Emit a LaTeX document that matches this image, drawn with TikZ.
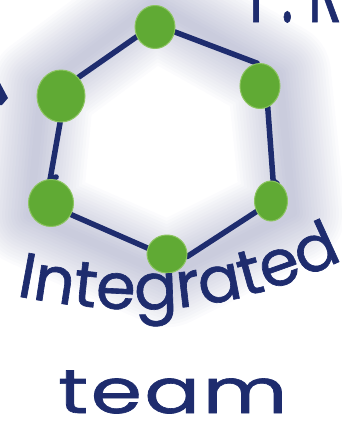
\documentclass[tikz,border=0pt]{standalone}
\usepackage{fontspec}
\setmainfont{Poppins}
\newfontfamily\handfont{Poppins}[FakeBold=1.0]
\usetikzlibrary{shapes.geometric,decorations.text}
\definecolor{navy}{RGB}{30,44,110}
\definecolor{leaf}{RGB}{96,170,52}
\definecolor{leaflight}{RGB}{140,196,96}
\definecolor{glowc}{RGB}{115,120,165}
\pgfdeclarelayer{bg}
\pgfsetlayers{bg,main}
\begin{document}
\begin{tikzpicture}[x=1pt,y=-1pt,
  dot/.style={ellipse, fill=leaf, draw=leaflight, line width=1pt, inner sep=0pt},
  edge/.style={draw=navy, line width=5.5pt, line cap=round, line join=round},
  hand/.style={text=navy, inner sep=0pt}]
\useasboundingbox (0,0) rectangle (342,421);
\clip (0,0) rectangle (342,421);
% nodes
\node[dot, minimum width=40pt, minimum height=43pt] (n1) at (155,27) {};
\node[dot, minimum width=40pt, minimum height=45pt] (n2) at (260,86) {};
\node[dot, minimum width=33pt, minimum height=40pt] (n3) at (271,201) {};
\node[dot, minimum width=40pt, minimum height=38pt] (n4) at (167,254) {};
\node[dot, minimum width=45pt, minimum height=47pt] (n5) at (51,203) {};
\node[dot, minimum width=48pt, minimum height=52pt] (n6) at (61,96) {};
\begin{pgfonlayer}{bg}
  \foreach \w in {104,98,...,8}
    \draw[glowc, opacity=0.026, line width=\w pt, line join=round]
      (154,4) -- (279,74) -- (293,213) -- (168,275) -- (30,215) -- (42,87) -- cycle;
  \draw[edge] (n1.-14) -- (n2.97);
  \draw[edge] (n2.-70) -- (n3.84) -- ++(4,3);
  \draw[edge] (n3.216) -- (n4.-7);
  \draw[edge] (n4.163) -- (n5.-30);
  \draw[edge] (n5.92) -- ++(6,-2);
  \draw[edge] (n5.92) -- (n6.268);
  \draw[edge] (n6.47) -- (n1.208);
\end{pgfonlayer}
% arrow tip at left edge
\fill[navy] (0,83) -- (8,98) -- (2,105) -- (0,105) -- cycle;
% texts
\node[hand, anchor=base west, xscale=0.62, font=\handfont\fontsize{90}{92}\selectfont] (pr) at (249,22) {P. R};
\path[decorate, decoration={text along path,
    text={|\handfont\fontsize{64}{66}\selectfont\color{navy}|Integrated},
    text align=fit to path}]
  (16,296) .. controls (120,316) and (220,320) .. (338,262);
\node[hand, anchor=base west, xscale=1.33,
  font=\handfont\fontsize{62}{64}\selectfont\addfontfeatures{LetterSpace=3}] (tm) at (58,413) {team};
\end{tikzpicture}
\end{document}
